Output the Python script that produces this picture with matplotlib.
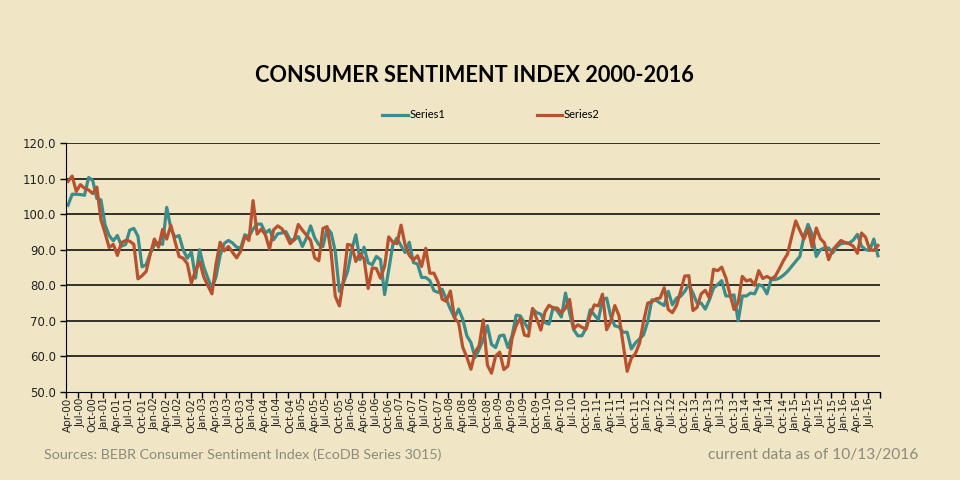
import matplotlib
matplotlib.use("Agg")
import matplotlib.pyplot as plt
from matplotlib.ticker import FixedLocator, NullFormatter

# monthly data, Apr-2000 .. Sep-2016
start_year, start_month = 2000, 4
n_months = 198

series1 = [
    102.5, 105.6, 105.6, 105.5, 105.3, 110.3, 109.5, 104.4, 104.0,
    97.0, 94.0, 92.5, 94.0, 91.0, 91.5, 95.5, 96.0, 93.8, 85.2, 85.8, 89.0,
    91.3, 92.0, 91.5, 101.9, 96.0, 93.5, 94.0, 90.0, 87.6, 89.4, 82.0, 90.0,
    85.2, 82.0, 79.2, 82.4, 88.5, 91.8, 92.6, 91.9, 90.7, 90.5, 94.2, 93.7,
    95.8, 97.2, 97.2, 94.7, 95.6, 92.8, 94.5, 94.7, 95.1, 92.8, 92.8, 93.7,
    90.9, 93.3, 96.7, 93.3, 91.4, 90.9, 96.1, 94.7, 89.5, 78.3, 80.7, 83.9,
    90.0, 94.2, 87.2, 90.7, 86.3, 85.8, 88.1, 87.2, 77.4, 84.4, 91.4, 93.3,
    91.1, 89.2, 92.1, 86.4, 86.0, 82.2, 82.2, 81.3, 78.5, 78.0, 78.9, 76.1,
    73.3, 70.9, 73.3, 70.5, 65.8, 63.9, 59.7, 62.0, 64.8, 68.6, 63.4, 62.5,
    65.8, 66.0, 62.5, 65.8, 71.6, 71.4, 69.5, 67.7, 73.3, 72.3, 71.9, 69.5,
    69.1, 73.8, 72.8, 71.1, 77.8, 72.2, 67.5, 65.8, 65.8, 68.0, 73.1, 71.7,
    70.3, 75.9, 76.4, 71.3, 68.6, 68.3, 66.8, 66.8, 62.1, 63.8, 64.9, 66.1,
    69.8, 75.9, 75.8, 75.0, 74.3, 78.3, 74.5, 76.4, 76.9, 78.3, 80.2, 77.8,
    75.0, 75.0, 73.3, 75.9, 79.2, 80.2, 81.3, 77.0, 77.0, 77.3, 70.0, 77.0,
    77.0, 77.8, 77.6, 80.2, 79.7, 77.6, 81.6, 81.6, 82.0, 82.8, 83.9, 85.3,
    86.7, 88.1, 93.8, 97.1, 94.3, 88.1, 90.0, 90.5, 90.5, 89.1, 90.8, 91.7,
    91.9, 91.9, 92.7, 94.3, 91.0, 90.0, 89.8, 93.0, 88.3,
]

series2 = [
    109.2, 110.7, 106.4, 108.3, 107.3, 106.8, 105.8, 107.6, 98.4,
    94.7, 90.6, 91.5, 88.4, 92.0, 92.6, 92.4, 91.5, 81.8, 82.7, 83.9, 88.8,
    93.0, 90.7, 95.7, 93.0, 96.9, 92.4, 88.1, 87.6, 86.1, 80.6, 84.2, 86.7,
    82.4, 79.9, 77.6, 86.0, 92.1, 89.7, 90.9, 89.3, 87.7, 89.6, 93.7, 92.6,
    103.8, 94.4, 95.8, 94.2, 90.2, 95.6, 96.7, 95.9, 94.2, 91.7, 92.8, 97.1,
    95.5, 94.1, 92.6, 87.7, 86.9, 96.0, 96.5, 89.1, 76.9, 74.2, 81.6, 91.5,
    91.2, 86.7, 88.9, 87.4, 79.1, 84.9, 84.7, 82.0, 85.4, 93.6, 92.1, 91.7,
    96.9, 91.3, 88.4, 87.1, 88.3, 85.3, 90.4, 83.4, 83.4, 80.9, 76.1, 75.5,
    78.4, 70.8, 69.5, 62.6, 59.8, 56.4, 61.2, 63.0, 70.3, 57.6, 55.3, 60.1,
    61.2, 56.3, 57.3, 65.1, 68.7, 70.8, 66.0, 65.7, 73.5, 70.6, 67.4, 72.5,
    74.4, 73.6, 73.6, 72.2, 73.6, 76.0, 67.8, 68.9, 68.2, 67.7, 71.6, 74.5,
    74.2, 77.5, 67.5, 69.8, 74.3, 71.5, 63.7, 55.8, 59.5, 60.8, 63.7, 69.9,
    75.0, 75.3, 76.2, 76.4, 79.3, 73.2, 72.3, 74.3, 78.3, 82.6, 82.7, 72.9,
    73.8, 77.6, 78.6, 76.4, 84.5, 84.1, 85.1, 82.1, 77.5, 73.2, 75.1, 82.5,
    81.2, 81.6, 80.0, 84.1, 81.9, 82.5, 81.8, 82.5, 84.6, 86.9, 88.8, 93.6,
    98.1, 95.4, 93.0, 95.9, 90.7, 96.1, 93.1, 91.9, 87.2, 90.0, 91.3, 92.6,
    92.0, 91.7, 91.0, 89.0, 94.7, 93.5, 90.0, 89.8, 91.2,
]

y_ticks = [50, 60, 70, 80, 90, 100, 110, 120]
month_names = ["Jan", "Feb", "Mar", "Apr", "May", "Jun",
               "Jul", "Aug", "Sep", "Oct", "Nov", "Dec"]

bg = "#F0E6C5"
teal = "#3A8D8B"
rust = "#B8522E"

# labels like Apr-00, every month
labels = []
for i in range(n_months):
    m = start_month - 1 + i
    labels.append("%s-%02d" % (month_names[m % 12], (start_year + m // 12) % 100))

fig = plt.figure(figsize=(9.6, 4.8), dpi=100, facecolor=bg)
ax = fig.add_axes([66 / 960, 1 - 392 / 480, 814 / 960, 249 / 480])
ax.set_facecolor(bg)

x = [i + 0.5 for i in range(n_months)]
ax.plot(x, series1, color=teal, lw=2.3, label="Series1", solid_joinstyle="round")
ax.plot(x, series2, color=rust, lw=2.3, label="Series2", solid_joinstyle="round")

ax.set_xlim(0, n_months)
ax.set_ylim(50, 120)
ax.set_yticks(y_ticks)
ax.set_yticklabels(["%.1f" % v for v in y_ticks], fontsize=8.5, color="#222222")
for v in y_ticks[1:]:
    ax.axhline(v, color="black", lw=1.1, zorder=0)

# ticks on category boundaries, labels on category centres (every 3 months)
ax.xaxis.set_major_locator(FixedLocator(list(range(0, n_months + 1, 3))))
ax.xaxis.set_major_formatter(NullFormatter())
ax.xaxis.set_minor_locator(FixedLocator([i + 0.5 for i in range(0, n_months, 3)]))
ax.set_xticklabels([labels[i] for i in range(0, n_months, 3)], minor=True,
                   rotation=90, fontsize=7.5, color="#222222")
ax.tick_params(axis="x", which="major", length=4, width=1, color="black")
ax.tick_params(axis="x", which="minor", length=0, pad=4)
ax.tick_params(axis="y", length=4, width=1, color="black", pad=3)

for s in ["top", "right"]:
    ax.spines[s].set_visible(False)
ax.spines["left"].set_color("black")
ax.spines["bottom"].set_color("black")

fig.text(474 / 960, 1 - 75 / 480, "CONSUMER SENTIMENT INDEX 2000-2016",
         ha="center", va="center", fontsize=15.7, fontweight="bold",
         family="Lato", color="black")

fig.legend(loc="center", bbox_to_anchor=(491 / 960, 1 - 115 / 480), ncol=2,
           frameon=False, handlelength=2.3, handletextpad=0.15,
           columnspacing=8.2, prop={"family": "Lato", "size": 8})

fig.text(44 / 960, 1 - 455 / 480,
         "Sources: BEBR Consumer Sentiment Index (EcoDB Series 3015)",
         ha="left", va="center", fontsize=10.3, family="Lato", color="#8C8A7C")
fig.text(918 / 960, 1 - 455 / 480, "current data as of 10/13/2016",
         ha="right", va="center", fontsize=11.2, family="Lato", color="#8C8A7C")

fig.savefig("out.png", dpi=100, facecolor=bg)
